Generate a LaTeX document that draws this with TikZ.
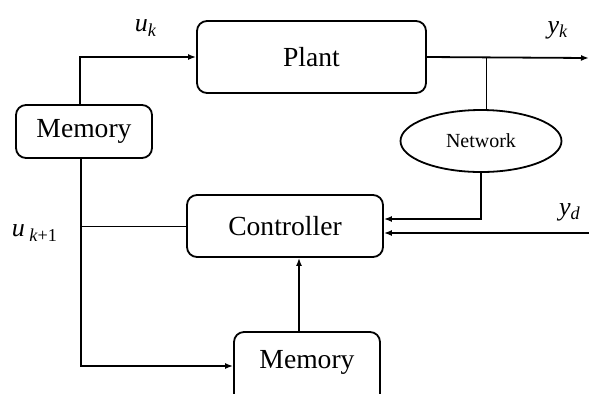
\documentclass[tikz,border=0pt]{standalone}
\usepackage{fontspec}
\setmainfont{Liberation Serif}
\usetikzlibrary{arrows.meta,positioning,shapes.geometric}

\begin{document}
\begin{tikzpicture}[
  x=0.5pt, y=-0.5pt,
  block/.style={rectangle, rounded corners=5pt, draw, line width=0.9pt,
    align=center, font=\fontsize{13.8}{16}\selectfont},
  cloud/.style={ellipse, draw, line width=0.9pt, inner sep=0pt,
    minimum width=80.5pt, minimum height=31pt, font=\fontsize{10}{12}\selectfont},
  arrow/.style={-{Latex[length=4pt,width=3pt]}, line width=0.9pt},
  wire/.style={line width=0.5pt},
  sig/.style={font=\fontsize{13}{15}\selectfont}
]
\useasboundingbox (0,0) rectangle (589,393);

\node[block, minimum width=114.5pt, minimum height=36pt] (plant) at (311.5,57) {Plant};
\node[block, minimum width=68pt, minimum height=26.5pt] (mem1) at (84,131.5) {Memory};
\node[block, minimum width=98pt, minimum height=31pt] (ctrl) at (285,226) {Controller};
\node[block, minimum width=73pt, minimum height=38pt, text depth=11pt] (mem2) at (307,370) {Memory};
\node[cloud] (net) at (481,141) {Network};

\coordinate (yout) at (589,58);
\coordinate (ydin) at (589,233);

% signal labels
\node[sig] (uk) at (146,28) {\textit{u}\textsubscript{\textit{k}}};
\node[sig] (ukk) at (35,233) {\textit{u}\,\textsubscript{\textit{k}+1}};
\node[sig] (yk) at (558,30) {\textit{y}\textsubscript{\textit{k}}};
\node[sig] (yd) at (570,212) {\textit{y}\textsubscript{\textit{d}}};

% connections
\draw[arrow] ([xshift=-2pt]mem1.north) |- (plant.west);
\draw[arrow] ([xshift=-1.5pt]mem1.south) |- ([yshift=2pt]mem2.west);
\draw[wire] ([xshift=-1.5pt]mem1.south |- ctrl.west) -- (ctrl.west);
\draw[arrow] ([xshift=-4pt]mem2.north) -- ([xshift=-4pt]mem2.north |- ctrl.south);
\draw[arrow] (plant.east) -- (yout);
\draw[wire] ([xshift=2.5pt]net.north |- plant.east) -- ([xshift=2.5pt]net.north);
\draw[arrow] (net.south) |- ([yshift=3.5pt]ctrl.east);
\draw[arrow] (ydin) -- ([yshift=-3.5pt]ctrl.east);

\end{tikzpicture}
\end{document}
